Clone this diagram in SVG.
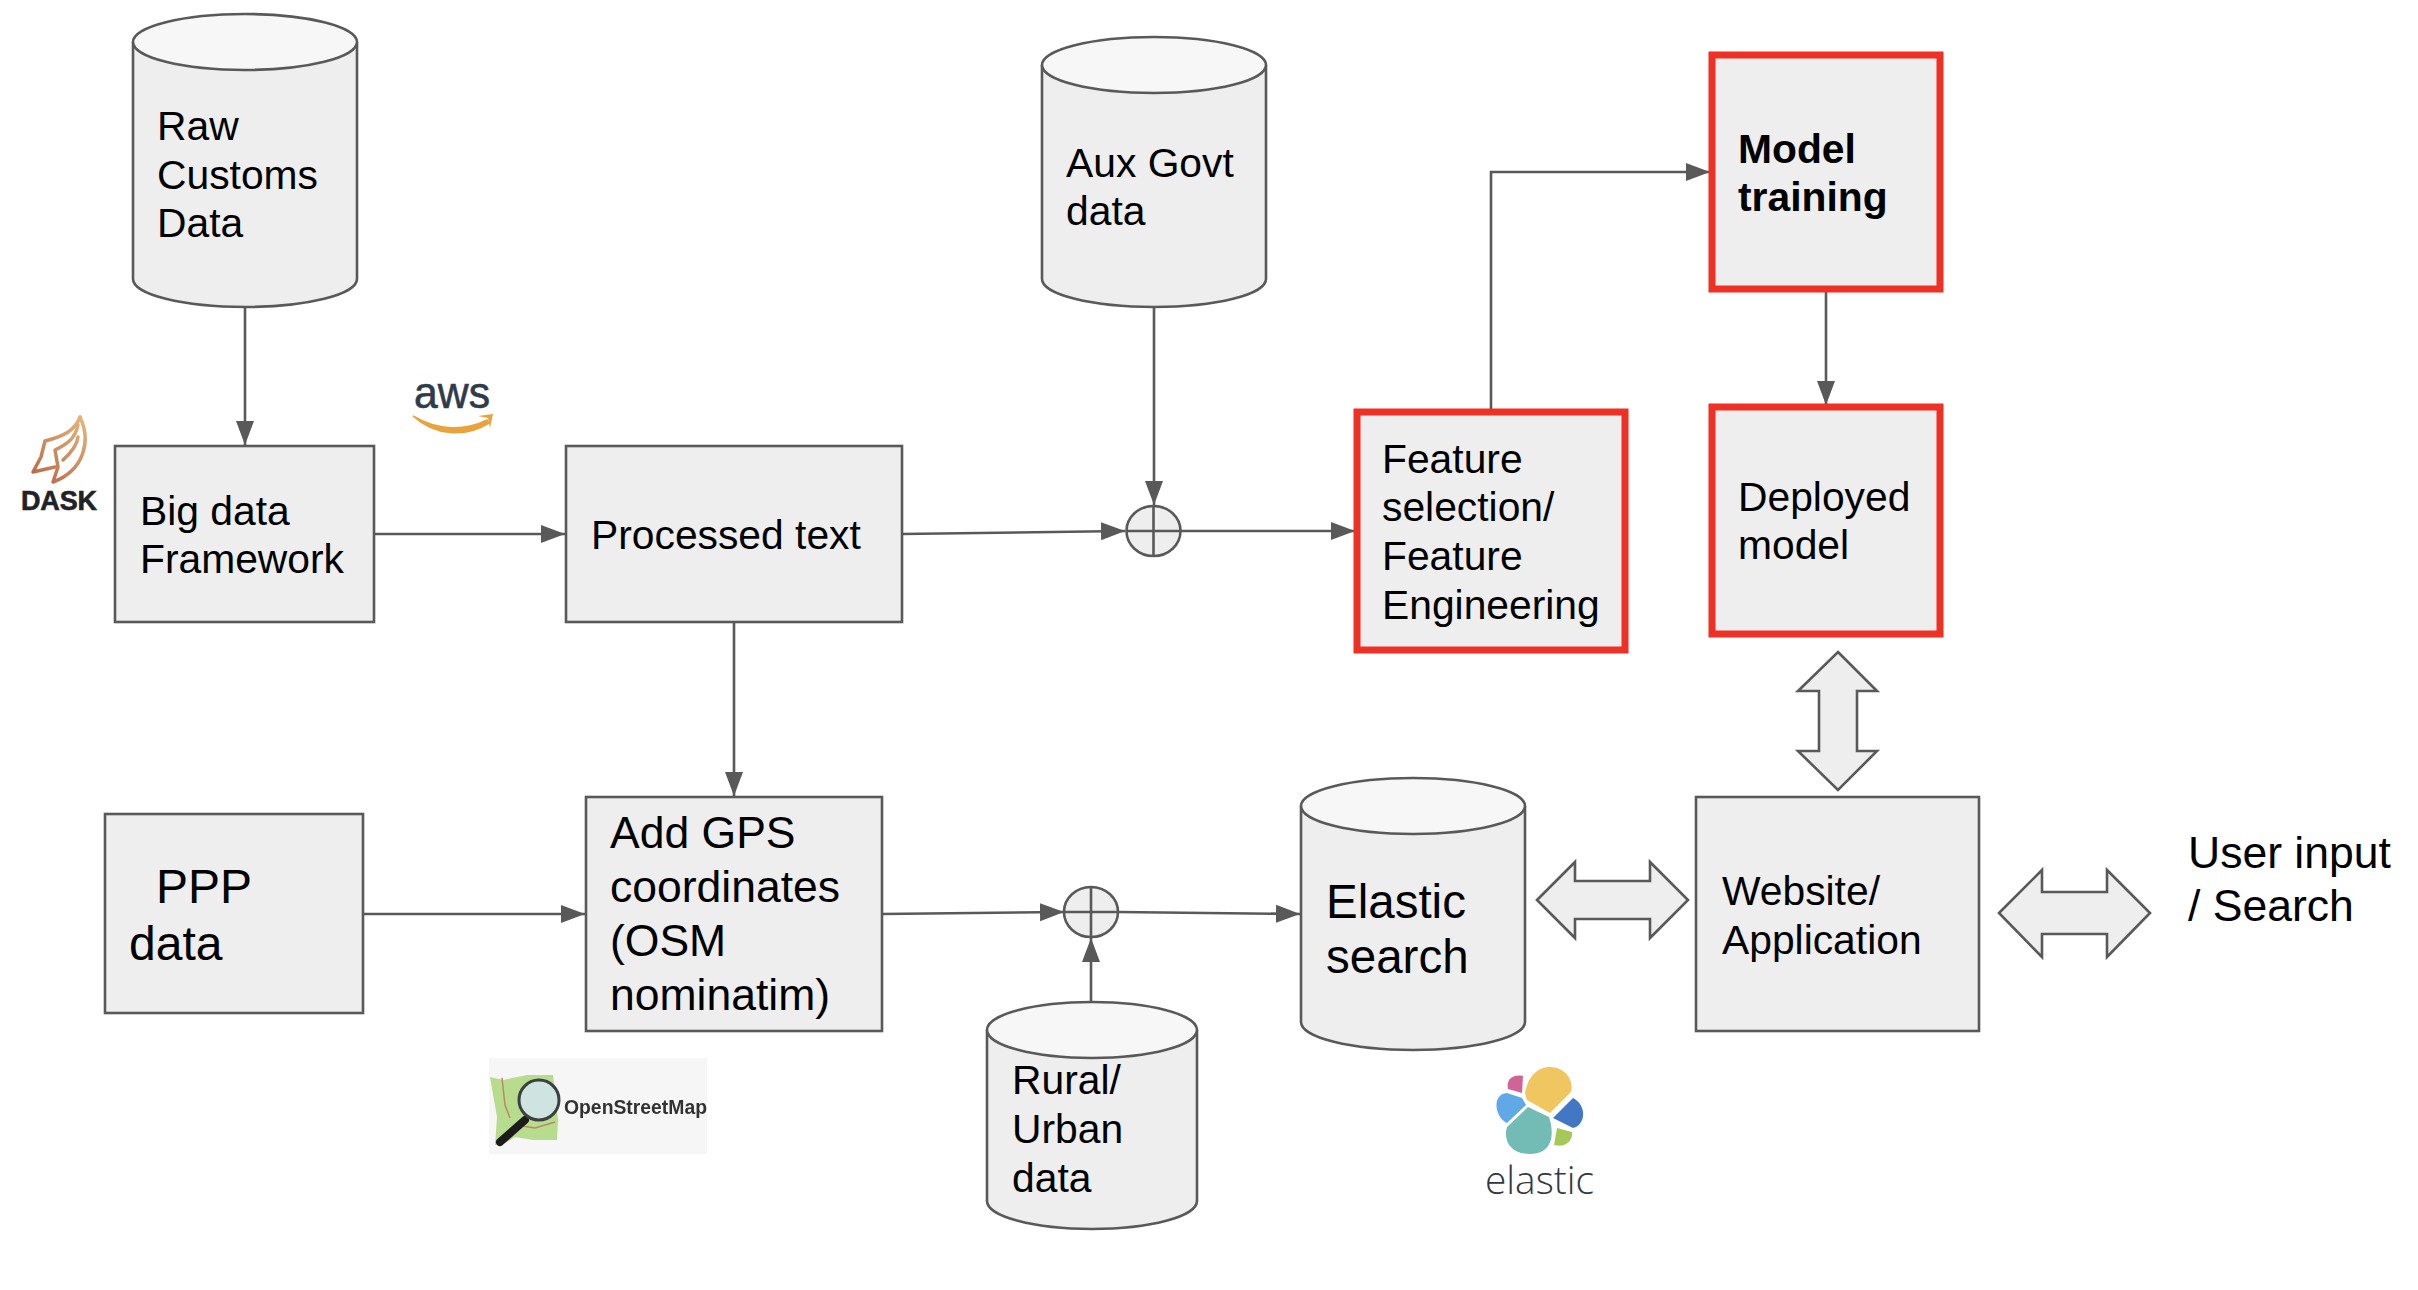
<svg xmlns="http://www.w3.org/2000/svg" width="2418" height="1290" viewBox="0 0 2418 1290">
<style>
text{font-family:"Liberation Sans",Arial,sans-serif;fill:#000}
.t{font-size:40.8px}
.b{fill:#eeeeee;stroke:#595959;stroke-width:2.600}
.r{fill:#eeeeee;stroke:#ee3124;stroke-width:7}
.c{fill:none;stroke:#595959;stroke-width:2.600}
.e{fill:#f7f7f7;stroke:#595959;stroke-width:2.600}
.dk{fill:none;stroke:url(#dk);stroke-width:3.500;stroke-linejoin:round;stroke-linecap:round}
</style>
<defs>
<marker id="a" markerUnits="userSpaceOnUse" markerWidth="26" markerHeight="20" refX="24" refY="9" orient="auto"><path d="M0 0L24 9L0 18Z" fill="#595959"/></marker>
<linearGradient id="dk" gradientUnits="userSpaceOnUse" x1="35" y1="480" x2="85" y2="420"><stop offset="0" stop-color="#b8694a"/><stop offset="1" stop-color="#e3b57d"/></linearGradient>
<filter id="soft" x="-5%" y="-5%" width="110%" height="110%"><feGaussianBlur stdDeviation="0.7"/></filter>
</defs>
<g id="connectors">
<path class="c" d="M245 307V445" marker-end="url(#a)"/>
<path class="c" d="M374 534H565" marker-end="url(#a)"/>
<path class="c" d="M902 534L1125 531" marker-end="url(#a)"/>
<path class="c" d="M1154 307V505" marker-end="url(#a)"/>
<path class="c" d="M1181 531H1355" marker-end="url(#a)"/>
<path class="c" d="M1491 412V172H1710" marker-end="url(#a)"/>
<path class="c" d="M1826 289V405" marker-end="url(#a)"/>
<path class="c" d="M734 622V796" marker-end="url(#a)"/>
<path class="c" d="M363 914H585" marker-end="url(#a)"/>
<path class="c" d="M882 914L1064 912" marker-end="url(#a)"/>
<path class="c" d="M1118 912L1300 914" marker-end="url(#a)"/>
<path class="c" d="M1091 1002V938" marker-end="url(#a)"/>
</g>
<g id="raw">
<path class="b" d="M133 42V279A112 28 0 0 0 357 279V42"/>
<ellipse class="e" cx="245" cy="42" rx="112" ry="28"/>
<text class="t"><tspan x="157" y="140">Raw</tspan><tspan x="157" y="189">Customs</tspan><tspan x="157" y="237">Data</tspan></text>
</g>
<g id="bigdata">
<rect class="b" x="115" y="446" width="259" height="176"/>
<text class="t"><tspan x="140" y="525">Big data</tspan><tspan x="140" y="573">Framework</tspan></text>
</g>
<g id="processed">
<rect class="b" x="566" y="446" width="336" height="176"/>
<text class="t" x="591" y="549">Processed text</text>
</g>
<g id="aux">
<path class="b" d="M1042 65V279A112 28 0 0 0 1266 279V65"/>
<ellipse class="e" cx="1154" cy="65" rx="112" ry="28"/>
<text class="t"><tspan x="1066" y="177">Aux Govt</tspan><tspan x="1066" y="225">data</tspan></text>
</g>
<g id="sum1">
<ellipse class="b" cx="1153.500" cy="531" rx="27" ry="25"/>
<path class="c" d="M1126.500 531H1180.500M1153.500 506V556"/>
</g>
<g id="feature">
<rect class="r" x="1357" y="412" width="268" height="238"/>
<text class="t"><tspan x="1382" y="473">Feature</tspan><tspan x="1382" y="521">selection/</tspan><tspan x="1382" y="570">Feature</tspan><tspan x="1382" y="619">Engineering</tspan></text>
</g>
<g id="training">
<rect class="r" x="1712" y="55" width="228" height="234"/>
<text class="t" style="font-weight:700"><tspan x="1738" y="163">Model</tspan><tspan x="1738" y="211">training</tspan></text>
</g>
<g id="deployed">
<rect class="r" x="1712" y="407" width="228" height="227"/>
<text class="t"><tspan x="1738" y="511">Deployed</tspan><tspan x="1738" y="559">model</tspan></text>
</g>
<g id="arrow-v"><path class="b" d="M1838 652L1877 691H1857V751H1877L1838 790L1798 751H1819V691H1798Z"/></g>
<g id="gps">
<rect class="b" x="586" y="797" width="296" height="234"/>
<text class="t" style="font-size:44.500px"><tspan x="610" y="848">Add GPS</tspan><tspan x="610" y="902">coordinates</tspan><tspan x="610" y="956">(OSM</tspan><tspan x="610" y="1010">nominatim)</tspan></text>
</g>
<g id="ppp">
<rect class="b" x="105" y="814" width="258" height="199"/>
<text class="t" style="font-size:48px"><tspan x="156" y="903">PPP</tspan><tspan x="129" y="960">data</tspan></text>
</g>
<g id="sum2">
<ellipse class="b" cx="1091" cy="912" rx="27" ry="25"/>
<path class="c" d="M1064 912H1118M1091 887V937"/>
</g>
<g id="rural">
<path class="b" d="M987 1030V1201A105 28 0 0 0 1197 1201V1030"/>
<ellipse class="e" cx="1092" cy="1030" rx="105" ry="28"/>
<text class="t"><tspan x="1012" y="1094">Rural/</tspan><tspan x="1012" y="1143">Urban</tspan><tspan x="1012" y="1192">data</tspan></text>
</g>
<g id="elasticsearch">
<path class="b" d="M1301 806V1022A112 28 0 0 0 1525 1022V806"/>
<ellipse class="e" cx="1413" cy="806" rx="112" ry="28"/>
<text class="t" style="font-size:47.500px"><tspan x="1326" y="918">Elastic</tspan><tspan x="1326" y="973">search</tspan></text>
</g>
<g id="arrow-h1"><path class="b" d="M1537 900L1575 862V881H1650V862L1688 900L1650 938V919H1575V938Z"/></g>
<g id="website">
<rect class="b" x="1696" y="797" width="283" height="234"/>
<text class="t"><tspan x="1722" y="905">Website/</tspan><tspan x="1722" y="954">Application</tspan></text>
</g>
<g id="arrow-h2"><path class="b" d="M1999 913L2042 870V892H2107V870L2150 913L2107 957V934H2042V957Z"/></g>
<g id="user">
<text class="t" style="font-size:44.500px"><tspan x="2188" y="868">User input</tspan><tspan x="2188" y="921">/ Search</tspan></text>
</g>
<g id="logo-dask">
<path class="dk" d="M80 417C75 430 65 436 45 441L41 457L33 472L55 467"/>
<path class="dk" d="M80 417C91 440 85 470 53 482L58 467L55 450C65 445 75 440 78 425"/>
<path class="dk" d="M63 460C72 452 77 445 78 437"/>
<text x="21" y="510" textLength="76" lengthAdjust="spacing" style="font-size:27px;font-weight:700;fill:#1f2328;stroke:#1f2328;stroke-width:0.600">DASK</text>
</g>
<g id="logo-aws">
<text x="414" y="408" textLength="76" lengthAdjust="spacingAndGlyphs" style="font-size:45px;fill:#2f3a4a;stroke:#2f3a4a;stroke-width:0.600">aws</text>
<path d="M413 416C438 431 465 431 487 420L489 423C465 438 435 436 413 416Z" fill="#e8a33d" stroke="#e8a33d" stroke-width="1.500"/>
<path d="M478 416L493 414L490 428L488 418Z" fill="#e8a33d"/>
</g>
<g id="logo-osm">
<rect x="489" y="1058" width="218" height="96" fill="#f6f6f6"/>
<g filter="url(#soft)">
<path d="M490 1077L503 1080L527 1075L553 1075L558 1120L557 1140L533 1140L515 1137L502 1145L495 1145L497 1117Z" fill="#b8dc8e"/>
<path d="M502 1078L505 1105L510 1118M522 1126L535 1128L555 1122" fill="none" stroke="#b98a63" stroke-width="1.500"/>
<path d="M525 1120L500 1142" stroke="#1d1d1d" stroke-width="8" stroke-linecap="round" fill="none"/>
<circle cx="539" cy="1100" r="20" fill="#cfe3e0" stroke="#3b3f3f" stroke-width="3"/>
<text x="564" y="1114" textLength="143" lengthAdjust="spacingAndGlyphs" style="font-size:20px;font-weight:700;fill:#333">OpenStreetMap</text>
</g>
</g>
<g id="logo-elastic">
<path d="M1523 1076L1522 1093L1508 1089C1506 1080 1512 1074 1523 1076Z" fill="#cf6497"/>
<path d="M1525 1093C1528 1076 1538 1067 1550 1067C1565 1067 1574 1080 1571 1092L1550 1113L1527 1100Z" fill="#efc65f"/>
<path d="M1507 1093L1522 1098L1526 1105L1507 1123C1495 1118 1491 1094 1507 1093Z" fill="#60a8e6"/>
<path d="M1573 1098C1587 1105 1586 1125 1573 1128L1553 1118Z" fill="#4278c3"/>
<path d="M1528 1107L1549 1117C1555 1135 1552 1154 1530 1154C1510 1154 1503 1140 1507 1127Z" fill="#72bcb5"/>
<path d="M1557 1128L1572 1132C1573 1142 1564 1148 1554 1145Z" fill="#a5c85a"/>
<text x="1485" y="1194" textLength="109" lengthAdjust="spacingAndGlyphs" style="font-family:'Open Sans',sans-serif;font-weight:300;font-size:38px;fill:#33383f">elastic</text>
</g>
</svg>
